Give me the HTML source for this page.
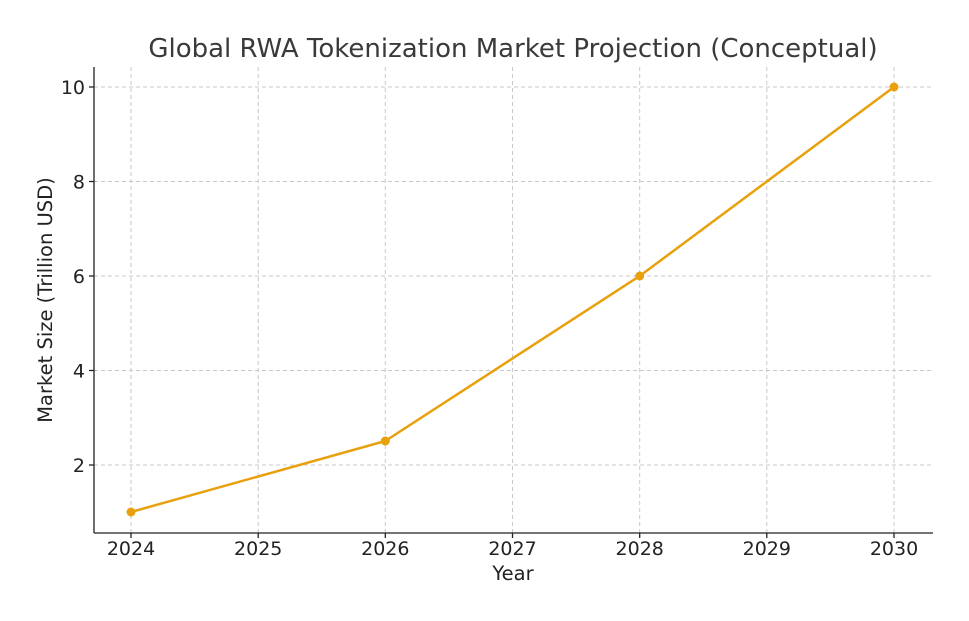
<!DOCTYPE html>
<html><head><meta charset="utf-8"><style>body{margin:0;background:#fff}svg{display:block}</style></head>
<body>
<svg width="969" height="621" xmlns="http://www.w3.org/2000/svg" font-family="DejaVu Sans, Liberation Sans, sans-serif">
<rect width="969" height="621" fill="#fff"/>
<g stroke="#c8c8c8" stroke-width="1" stroke-dasharray="4,3">
<line x1="131" y1="67" x2="131" y2="533"/><line x1="258.2" y1="67" x2="258.2" y2="533"/><line x1="385.3" y1="67" x2="385.3" y2="533"/><line x1="512.5" y1="67" x2="512.5" y2="533"/><line x1="639.7" y1="67" x2="639.7" y2="533"/><line x1="766.8" y1="67" x2="766.8" y2="533"/><line x1="894" y1="67" x2="894" y2="533"/>
<line x1="94" y1="87" x2="933" y2="87"/><line x1="94" y1="181.5" x2="933" y2="181.5"/><line x1="94" y1="276" x2="933" y2="276"/><line x1="94" y1="370.5" x2="933" y2="370.5"/><line x1="94" y1="465" x2="933" y2="465"/>
</g>
<g stroke="#222" stroke-width="1.3">
<line x1="94" y1="67" x2="94" y2="533"/><line x1="94" y1="533" x2="933" y2="533"/>
<line x1="131" y1="533" x2="131" y2="538"/><line x1="258.2" y1="533" x2="258.2" y2="538"/><line x1="385.3" y1="533" x2="385.3" y2="538"/><line x1="512.5" y1="533" x2="512.5" y2="538"/><line x1="639.7" y1="533" x2="639.7" y2="538"/><line x1="766.8" y1="533" x2="766.8" y2="538"/><line x1="894" y1="533" x2="894" y2="538"/>
<line x1="89" y1="87" x2="94" y2="87"/><line x1="89" y1="181.5" x2="94" y2="181.5"/><line x1="89" y1="276" x2="94" y2="276"/><line x1="89" y1="370.5" x2="94" y2="370.5"/><line x1="89" y1="465" x2="94" y2="465"/>
</g>
<polyline points="131,512 385.3,441 639.7,276 894,87" fill="none" stroke="#E8A00C" stroke-width="2.5"/>
<g fill="#E8A00C"><circle cx="131" cy="512" r="4.5"/><circle cx="385.3" cy="441" r="4.5"/><circle cx="639.7" cy="276" r="4.5"/><circle cx="894" cy="87" r="4.5"/></g>
<g fill="#222" font-size="19" text-anchor="middle">
<text x="131" y="555">2024</text><text x="258.2" y="555">2025</text><text x="385.3" y="555">2026</text><text x="512.5" y="555">2027</text><text x="639.7" y="555">2028</text><text x="766.8" y="555">2029</text><text x="894" y="555">2030</text>
</g>
<g fill="#222" font-size="19" text-anchor="end">
<text x="85" y="94">10</text><text x="85" y="188.5">8</text><text x="85" y="283">6</text><text x="85" y="377.5">4</text><text x="85" y="472">2</text>
</g>
<text x="513" y="580" font-size="19.5" fill="#222" text-anchor="middle">Year</text>
<text transform="translate(52,300) rotate(-90)" font-size="19.5" fill="#222" text-anchor="middle">Market Size (Trillion USD)</text>
<text x="513" y="57" font-size="26" fill="#3a3a3a" text-anchor="middle">Global RWA Tokenization Market Projection (Conceptual)</text>
</svg>
</body></html>
